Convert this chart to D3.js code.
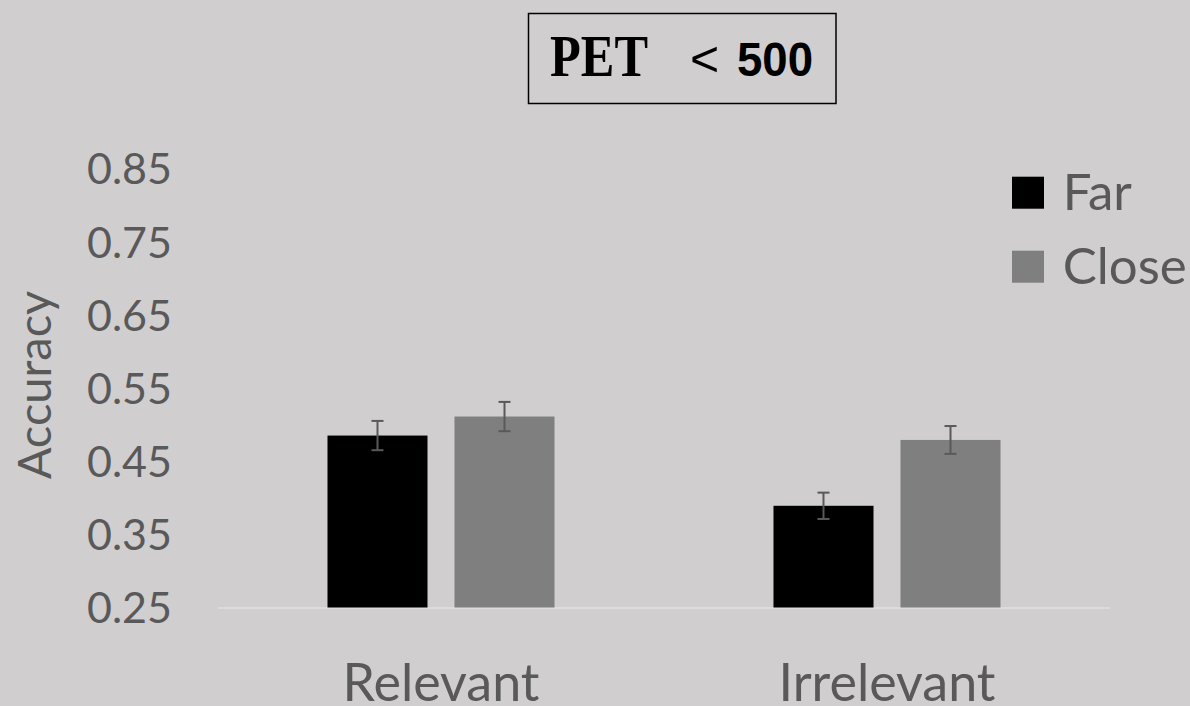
<!DOCTYPE html>
<html>
<head>
<meta charset="utf-8">
<script src="https://cdn.jsdelivr.net/npm/d3@7"></script>
<style>
  html, body { margin: 0; padding: 0; background: #d0cecf; }
  svg { display: block; }
</style>
</head>
<body>
<svg id="chart" width="1190" height="706"></svg>
<script>
const categories = ["Relevant", "Irrelevant"];
const seriesNames = ["Far", "Close"];
const farValues = [0.485, 0.389];
const closeValues = [0.511, 0.479];
const farErrors = [0.020, 0.018];
const closeErrors = [0.020, 0.019];
const yTicks = [0.25, 0.35, 0.45, 0.55, 0.65, 0.75, 0.85];
const colors = { Far: "#000000", Close: "#7f7f7f" };

const data = categories.map((c, i) => ({
  category: c,
  values: [
    { series: "Far", value: farValues[i], err: farErrors[i] },
    { series: "Close", value: closeValues[i], err: closeErrors[i] }
  ]
}));

const svg = d3.select("#chart");
const textColor = "#595959";

const x0 = d3.scaleBand().domain(categories).range([218, 1110])
  .paddingInner(0.491).paddingOuter(0.2455);
const x1 = d3.scaleBand().domain(seriesNames).range([0, x0.bandwidth()])
  .paddingInner(0.2126).paddingOuter(0);
const y = d3.scaleLinear().domain([0.25, 0.85]).range([607.5, 168.5]);

// y axis labels
const yAxis = d3.axisLeft(y).tickValues(yTicks).tickFormat(d3.format(".2f")).tickSize(0).tickPadding(0);
const yg = svg.append("g").attr("transform", "translate(172,0)").call(yAxis);
yg.select(".domain").remove();
yg.selectAll("text").attr("fill", textColor).style("font-family", "Lato, 'Open Sans', sans-serif")
  .style("font-size", "43px").attr("dy", "0.36em");

// baseline
svg.append("line").attr("x1", 218).attr("x2", 1110)
  .attr("y1", y(0.25) + 0.5).attr("y2", y(0.25) + 0.5)
  .attr("stroke", "#dcdcdc").attr("stroke-width", 2);

// bars
const groups = svg.append("g").selectAll("g").data(data).join("g")
  .attr("transform", d => `translate(${x0(d.category)},0)`);
groups.selectAll("rect").data(d => d.values).join("rect")
  .attr("x", d => x1(d.series))
  .attr("width", x1.bandwidth())
  .attr("y", d => y(d.value))
  .attr("height", d => y(0.25) - y(d.value))
  .attr("fill", d => colors[d.series]);

// error bars
const eb = groups.selectAll("g.err").data(d => d.values).join("g").attr("class", "err");
eb.append("line")
  .attr("x1", d => x1(d.series) + x1.bandwidth() / 2)
  .attr("x2", d => x1(d.series) + x1.bandwidth() / 2)
  .attr("y1", d => y(d.value + d.err)).attr("y2", d => y(d.value - d.err))
  .attr("stroke", "#595959").attr("stroke-width", 2);
eb.selectAll("line.cap").data(d => [{ d, v: d.value + d.err }, { d, v: d.value - d.err }]).join("line")
  .attr("class", "cap")
  .attr("x1", o => x1(o.d.series) + x1.bandwidth() / 2 - 6)
  .attr("x2", o => x1(o.d.series) + x1.bandwidth() / 2 + 6)
  .attr("y1", o => y(o.v)).attr("y2", o => y(o.v))
  .attr("stroke", "#595959").attr("stroke-width", 2);

// x category labels
const xAxis = d3.axisBottom(x0).tickSize(0).tickPadding(0);
const xg = svg.append("g").attr("transform", "translate(0,701)").call(xAxis);
xg.select(".domain").remove();
xg.selectAll("text").attr("fill", textColor).attr("dy", 0)
  .style("font-family", "Lato, 'Open Sans', sans-serif").style("font-size", "52px");

// y axis title
svg.append("text")
  .attr("transform", "translate(51,385) rotate(-90)")
  .attr("text-anchor", "middle")
  .attr("fill", textColor)
  .style("font-family", "Lato, 'Open Sans', sans-serif")
  .style("font-size", "47px")
  .text("Accuracy");

// legend
const legend = svg.append("g").selectAll("g").data(seriesNames).join("g")
  .attr("transform", (d, i) => `translate(1012,${176.7 + i * 74})`);
legend.append("rect").attr("width", 32).attr("height", 32).attr("fill", d => colors[d]);
legend.append("text").attr("x", 50.7).attr("y", 33.3)
  .attr("fill", textColor)
  .style("font-family", "Lato, 'Open Sans', sans-serif").style("font-size", "51px")
  .text(d => d);

// title box
svg.append("rect").attr("x", 528.5).attr("y", 13.5).attr("width", 307.5).attr("height", 90)
  .attr("fill", "none").attr("stroke", "#000").attr("stroke-width", 1.5);
const title = svg.append("text").attr("y", 76).attr("fill", "#000");
title.append("tspan").attr("x", 550)
  .style("font-family", "'Liberation Serif', 'Times New Roman', serif")
  .style("font-weight", "bold").style("font-size", "60px")
  .attr("textLength", 98).attr("lengthAdjust", "spacingAndGlyphs")
  .text("PET");
title.append("tspan").attr("x", 690)
  .style("font-family", "'Liberation Sans', Arial, sans-serif")
  .style("font-size", "50px")
  .text("<");
title.append("tspan").attr("x", 737)
  .style("font-family", "'Liberation Sans', Arial, sans-serif")
  .style("font-weight", "bold").style("font-size", "48px")
  .attr("textLength", 76).attr("lengthAdjust", "spacingAndGlyphs")
  .text("500");
</script>
</body>
</html>
